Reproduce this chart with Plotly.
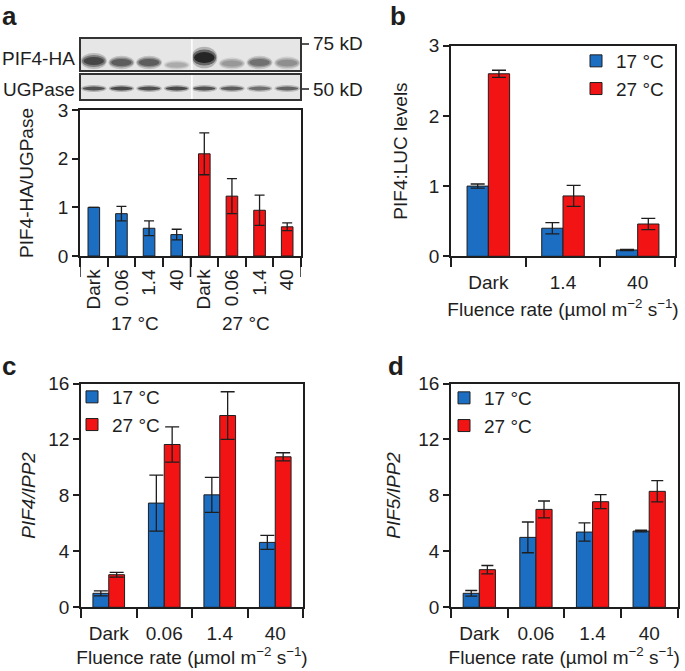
import plotly.graph_objects as go

W, H = 685, 671
BLUE = "#1b6ec2"
RED = "#f21414"
INK = "#1e1e1e"
FONT = "Liberation Sans, Arial, sans-serif"

# panel a: western blot quantification
a_labels = ["Dark", "0.06", "1.4", "40", "Dark", "0.06", "1.4", "40"]
a_groups = ["17 °C", "27 °C"]
a_values = [1.0, 0.87, 0.57, 0.44, 2.1, 1.23, 0.94, 0.60]
a_errors = [0.0, 0.15, 0.15, 0.11, 0.43, 0.36, 0.31, 0.08]
# band darkness (0-1) and relative thickness per lane
pif4_dark = [0.80, 0.68, 0.68, 0.28, 0.97, 0.38, 0.58, 0.42]
pif4_size = [1.0, 0.85, 0.85, 0.6, 1.35, 0.75, 0.85, 0.8]
ugp_dark = [0.78, 0.82, 0.80, 0.82, 0.78, 0.72, 0.62, 0.68]

# panel b: PIF4:LUC
b_cats = ["Dark", "1.4", "40"]
b_17 = [1.0, 0.40, 0.09]
b_17_err = [0.03, 0.08, 0.01]
b_27 = [2.6, 0.86, 0.46]
b_27_err = [0.05, 0.15, 0.08]

# panel c: PIF4/IPP2
cd_cats = ["Dark", "0.06", "1.4", "40"]
c_17 = [1.0, 7.45, 8.04, 4.64]
c_17_err = [0.18, 2.0, 1.25, 0.5]
c_27 = [2.33, 11.64, 13.71, 10.76]
c_27_err = [0.17, 1.26, 1.7, 0.29]

# panel d: PIF5/IPP2
d_17 = [1.0, 5.0, 5.38, 5.45]
d_17_err = [0.2, 1.1, 0.65, 0.06]
d_27 = [2.69, 7.0, 7.55, 8.29]
d_27_err = [0.3, 0.6, 0.5, 0.76]

fluence = "Fluence rate (µmol m<sup>−2</sup> s<sup>−1</sup>)"


def px(x):
    return x / W


def py(y):
    return 1 - y / H


fig = go.Figure()

fig.add_trace(go.Bar(
    x=list(range(len(a_values))), y=a_values, width=0.42,
    marker=dict(color=[BLUE] * 4 + [RED] * 4, line=dict(color=INK, width=1)),
    error_y=dict(type="data", array=a_errors, color=INK, thickness=1.3, width=5),
    showlegend=False, xaxis="x", yaxis="y"))


def pair(xa, ya, leg, v17, e17, v27, e27, capw):
    n = len(v17)
    fig.add_trace(go.Bar(
        x=list(range(n)), y=v17, name="17 °C", legend=leg,
        marker=dict(color=BLUE, line=dict(color=INK, width=1)),
        error_y=dict(type="data", array=e17, color=INK, thickness=1.3, width=capw),
        xaxis=xa, yaxis=ya))
    fig.add_trace(go.Bar(
        x=list(range(n)), y=v27, name="27 °C", legend=leg,
        marker=dict(color=RED, line=dict(color=INK, width=1)),
        error_y=dict(type="data", array=e27, color=INK, thickness=1.3, width=capw),
        xaxis=xa, yaxis=ya))


pair("x2", "y2", "legend", b_17, b_17_err, b_27, b_27_err, 7)
pair("x3", "y3", "legend2", c_17, c_17_err, c_27, c_27_err, 7)
pair("x4", "y4", "legend3", d_17, d_17_err, d_27, d_27_err, 6)

line = dict(showline=True, linecolor=INK, linewidth=1.5, mirror=True,
            showgrid=False, zeroline=False, fixedrange=True, automargin=False)


def xax(dom, cats, anchor, standoff_lab, angle=0, title=None, tstand=7):
    d = dict(line, domain=dom, anchor=anchor, range=[-0.5, len(cats) - 0.5],
             tickmode="array", tickvals=list(range(len(cats))), ticktext=cats,
             ticks="", tickangle=angle, ticklabelstandoff=standoff_lab,
             minor=dict(tickmode="linear", tick0=-0.5, dtick=1, ticks="outside",
                        ticklen=9, tickwidth=1.5, tickcolor=INK))
    if title:
        d["title"] = dict(text=title, standoff=tstand, font=dict(size=19))
    return d


def yax(dom, rng, dt, anchor, title, standoff):
    return dict(line, domain=dom, anchor=anchor, range=rng, dtick=dt, ticks="outside",
                ticklen=6, tickwidth=1.5, tickcolor=INK,
                title=dict(text=title, standoff=standoff, font=dict(size=19)))


fig.update_layout(
    width=W, height=H, margin=dict(l=0, r=0, t=0, b=0, autoexpand=False),
    paper_bgcolor="white", plot_bgcolor="white",
    font=dict(family=FONT, size=19, color=INK),
    barmode="group", bargap=0.43, bargroupgap=0,
    xaxis=xax([px(80), px(301)], a_labels, "y", 4, angle=-90),
    yaxis=yax([py(256), py(110)], [0, 3], 1, "x", "PIF4-HA/UGPase", 19),
    xaxis2=xax([px(451), px(675)], b_cats, "y2", 8, title=fluence, tstand=11),
    yaxis2=yax([py(256.3), py(45.7)], [0, 3], 1, "x2", "PIF4:LUC levels", 16),
    xaxis3=xax([px(81), px(303)], cd_cats, "y3", 8, title=fluence),
    yaxis3=yax([py(607.3), py(383.5)], [0, 16], 4, "x3", "<i>PIF4/IPP2</i>", 8),
    xaxis4=xax([px(451), px(677.5)], cd_cats, "y4", 8, title=fluence),
    yaxis4=yax([py(607.3), py(383.5)], [0, 16], 4, "x4", "<i>PIF5/IPP2</i>", 13),
)

leg = dict(bgcolor="rgba(0,0,0,0)", borderwidth=0, xanchor="left", yanchor="top",
           itemwidth=30, font=dict(size=19), tracegroupgap=0)
fig.update_layout(
    legend=dict(leg, x=px(576), y=py(42)),
    legend2=dict(leg, x=px(72), y=py(378)),
    legend3=dict(leg, x=px(444), y=py(379)),
)

shapes = []
# long group separator ticks under panel a
for xv in [-0.5, 3.5, 7.5]:
    shapes.append(dict(type="line", xref="x", yref="paper", x0=xv, x1=xv,
                       y0=py(256), y1=py(277), line=dict(color=INK, width=1.5)))

# blot boxes
for y0, y1 in [(38, 71), (74, 100)]:
    shapes.append(dict(type="rect", xref="paper", yref="paper", x0=px(80), x1=px(301),
                       y0=py(y1), y1=py(y0), fillcolor="#e6e6e6", line=dict(width=0),
                       layer="above"))
# PIF4-HA bands
for i, (dk, sz) in enumerate(zip(pif4_dark, pif4_size)):
    g = int(225 - 205 * dk)
    cy = 61 - (sz - 1) * 10
    for hw, hh, op in [(0.47, 8.0, 0.25), (0.43, 6.0, 0.5), (0.37, 4.0, 0.85)]:
        shapes.append(dict(type="circle", xref="x", yref="paper",
                           x0=i - hw, x1=i + hw, y0=py(cy + hh * sz), y1=py(cy - hh * sz),
                           fillcolor=f"rgba({g},{g},{g},{op})", line=dict(width=0),
                           layer="above"))
# UGPase bands
for i, dk in enumerate(ugp_dark):
    g = int(225 - 205 * dk)
    for hw, hh, op in [(0.46, 3.4, 0.3), (0.40, 1.9, 0.85)]:
        shapes.append(dict(type="circle", xref="x", yref="paper",
                           x0=i - hw, x1=i + hw, y0=py(88.5 + hh), y1=py(88.5 - hh),
                           fillcolor=f"rgba({g},{g},{g},{op})", line=dict(width=0),
                           layer="above"))
# lane split and outlines
shapes.append(dict(type="line", xref="x", yref="paper", x0=3.55, x1=3.55,
                   y0=py(100), y1=py(38), line=dict(color="white", width=1.5), layer="above"))
for y0, y1 in [(38, 71), (74, 100)]:
    shapes.append(dict(type="rect", xref="paper", yref="paper", x0=px(80), x1=px(301),
                       y0=py(y1), y1=py(y0), line=dict(color="#333", width=2), layer="above"))
for yy in [44, 89]:
    shapes.append(dict(type="line", xref="paper", yref="paper", x0=px(302), x1=px(309),
                       y0=py(yy), y1=py(yy), line=dict(color=INK, width=1.5)))

ann = []


def text(x, y, s, xa="center", size=19, bold=False):
    ann.append(dict(x=px(x), y=py(y), xref="paper", yref="paper", text=f"<b>{s}</b>" if bold else s,
                    showarrow=False, xanchor=xa, yanchor="middle", font=dict(size=size)))


text(0, 16, "a", "left", 26, True)
text(388, 16, "b", "left", 26, True)
text(0, 366, "c", "left", 26, True)
text(386, 366, "d", "left", 26, True)
text(77, 59, "PIF4-HA", "right")
text(77, 89, "UGPase", "right")
text(311, 44, "75 kD", "left")
text(311, 89, "50 kD", "left")
for k, g in enumerate(a_groups):
    ann.append(dict(x=1.5 + 4 * k, y=py(323), xref="x", yref="paper", text=g,
                    showarrow=False, yanchor="middle", font=dict(size=19)))

fig.update_layout(shapes=shapes, annotations=ann)
fig.write_html("out.html", config=dict(displayModeBar=False),
               post_script="document.body.style.margin='0px';")
